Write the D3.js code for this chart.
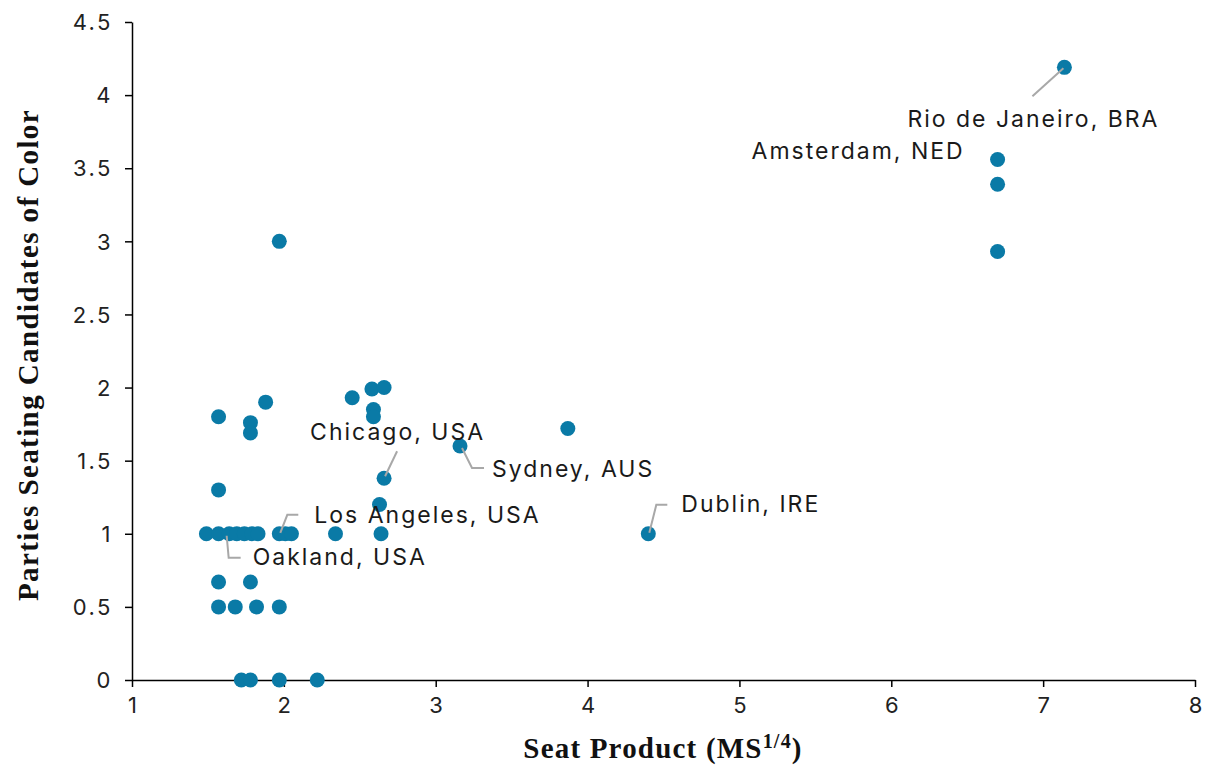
<!DOCTYPE html>
<html><head><meta charset="utf-8">
<script src="https://cdn.jsdelivr.net/npm/d3@7"></script>
<style>body{margin:0;background:#fff}</style>
</head><body>
<script>
// Data
const seatProduct = [1.49,1.57,1.64,1.69,1.74,1.79,1.83,1.97,2.01,2.05,2.34,2.64,4.40,
  1.57,1.78, 1.57,1.68,1.82,1.97, 1.72,1.78,1.97,2.22,
  1.57,1.57,1.78,1.78,1.88,1.97,2.45,2.58,2.66,2.59,2.59,2.66,2.63,3.16,3.87,
  6.70,6.70,6.70,7.14];
const parties = [1,1,1,1,1,1,1,1,1,1,1,1,1,
  0.67,0.67, 0.5,0.5,0.5,0.5, 0,0,0,0,
  1.3,1.8,1.76,1.69,1.9,3.0,1.93,1.99,2.0,1.85,1.80,1.38,1.2,1.60,1.72,
  3.56,3.39,2.93,4.19];
// Annotations: city label, point it refers to
const labelNames = ["Chicago, USA","Sydney, AUS","Los Angeles, USA","Oakland, USA","Dublin, IRE","Rio de Janeiro, BRA","Amsterdam, NED"];
const labelX = [2.66,3.16,1.97,1.63,4.40,7.14,6.70];
const labelY = [1.38,1.60,1.0,1.0,1.0,4.19,3.56];
const xTicks = [1,2,3,4,5,6,7,8];
const yTicks = [0,0.5,1,1.5,2,2.5,3,3.5,4,4.5];

const W=1209,H=769;
const svg=d3.select("body").append("svg").attr("width",W).attr("height",H);
const x=d3.scaleLinear().domain([1,8]).range([132,1195]);
const y=d3.scaleLinear().domain([0,4.5]).range([680,22]);
const tickFont="'Inter','Noto Sans',sans-serif";

const xa=svg.append("g").attr("transform",`translate(0,${y(0)})`)
  .call(d3.axisBottom(x).tickValues(xTicks).tickFormat(d3.format("d")).tickSize(7).tickSizeOuter(0));
const ya=svg.append("g").attr("transform",`translate(${x(1)},0)`)
  .call(d3.axisLeft(y).tickValues(yTicks).tickFormat(d=>String(d)).tickSize(7).tickSizeOuter(0));
[xa,ya].forEach(g=>{
  g.selectAll("path,line").attr("stroke","#000").attr("stroke-width",1.5);
  g.selectAll("text").attr("font-family",tickFont).attr("font-size",22).attr("letter-spacing","2.5px").attr("fill","#222");
});
xa.selectAll("text").attr("dy","1.05em").attr("dx","1.2");
ya.selectAll("text").attr("x",-19).attr("dy","0.35em");

// dots
svg.append("g").selectAll("circle").data(seatProduct.map((d,i)=>[d,parties[i]]))
  .join("circle").attr("cx",d=>x(d[0])).attr("cy",d=>y(d[1])).attr("r",7.5).attr("fill","#0a7aa6");

// leader lines (offsets relative to points in pixels)
const ann=svg.append("g");
const lead=(pts)=>ann.append("path").attr("d",d3.line()(pts)).attr("fill","none").attr("stroke","#a8a8a8").attr("stroke-width",2);
function P(i){return [x(labelX[i]),y(labelY[i])];}
let p;
p=P(0); lead([[p[0]+1,p[1]-2],[p[0]+13,p[1]-27]]);
p=P(1); lead([[p[0]+2,p[1]+2],[p[0]+12,p[1]+22],[p[0]+24,p[1]+22]]);
p=P(2); lead([[p[0]+1,p[1]-1],[p[0]+8,p[1]-19],[p[0]+19,p[1]-19]]);
p=P(3); lead([[p[0]-1,p[1]+2],[p[0]+1,p[1]+24],[p[0]+13,p[1]+24]]);
p=P(4); lead([[p[0]+1,p[1]-1],[p[0]+8,p[1]-29],[p[0]+19,p[1]-29]]);
p=P(5); lead([[p[0]-1,p[1]+1],[p[0]-32,p[1]+29]]);

const lblOff=[[-74,-38],[32,31],[35,-11],[25,31],[33,-22],[-157,60],[-246,0]];
ann.selectAll("text").data(labelNames).join("text")
  .attr("x",(d,i)=>x(labelX[i])+lblOff[i][0]).attr("y",(d,i)=>y(labelY[i])+lblOff[i][1])
  .attr("font-family",tickFont).attr("font-size",23).attr("letter-spacing","2px").attr("fill","#1a1a1a").text(d=>d);

// axis titles
const titleFont="'Liberation Serif','DejaVu Serif',serif";
const xt=svg.append("text").attr("x",663).attr("y",758).attr("text-anchor","middle")
  .attr("font-family",titleFont).attr("font-weight","bold").attr("font-size",29).attr("letter-spacing","1.2px").attr("fill","#111");
xt.append("tspan").text("Seat Product (MS");
xt.append("tspan").attr("font-size",20).attr("dy",-10).text("1/4");
xt.append("tspan").attr("dy",10).text(")");
svg.append("text").attr("transform","translate(38,355) rotate(-90)").attr("text-anchor","middle")
  .attr("font-family",titleFont).attr("font-weight","bold").attr("font-size",29).attr("letter-spacing","1.4px").attr("fill","#111")
  .text("Parties Seating Candidates of Color");
</script>
</body></html>
